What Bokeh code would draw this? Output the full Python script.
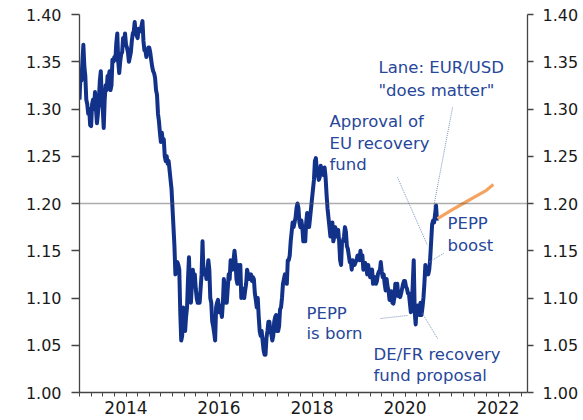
from bokeh.plotting import figure
from bokeh.models import (FixedTicker, LinearAxis, Range1d, Span,
                          ColumnDataSource, NumeralTickFormatter)
from bokeh.core.properties import value
from bokeh.embed import file_html
from bokeh.resources import INLINE

# ---------------- data (EUR/USD, ~weekly readings, 4 per month) ----------------
eur_2013 = [1.310, 1.335, 1.330, 1.350, 1.368, 1.345, 1.335, 1.310,
            1.305, 1.295, 1.300, 1.283, 1.282, 1.305, 1.310, 1.300,
            1.318, 1.300, 1.285, 1.295, 1.310, 1.330, 1.340, 1.310,
            1.300, 1.280, 1.310, 1.325, 1.320, 1.335, 1.333, 1.340,
            1.320, 1.325, 1.352, 1.350, 1.355, 1.352, 1.370, 1.380,
            1.350, 1.338, 1.350, 1.358, 1.360, 1.375, 1.370, 1.380]
eur_2014 = [1.368, 1.365, 1.360, 1.350, 1.355, 1.360, 1.372, 1.380,
            1.382, 1.392, 1.380, 1.378, 1.375, 1.385, 1.382, 1.383,
            1.388, 1.393, 1.372, 1.362, 1.362, 1.355, 1.360, 1.365,
            1.365, 1.360, 1.352, 1.345, 1.340, 1.338, 1.333, 1.320,
            1.315, 1.295, 1.287, 1.275, 1.265, 1.275, 1.265, 1.268,
            1.250, 1.245, 1.250, 1.242, 1.245, 1.235, 1.225, 1.215]
eur_2015 = [1.195, 1.175, 1.155, 1.125, 1.135, 1.138, 1.135, 1.130,
            1.085, 1.055, 1.060, 1.090, 1.075, 1.065, 1.080, 1.090,
            1.120, 1.143, 1.110, 1.095, 1.115, 1.130, 1.120, 1.125,
            1.110, 1.100, 1.095, 1.100, 1.095, 1.110, 1.125, 1.160,
            1.125, 1.128, 1.130, 1.120, 1.130, 1.140, 1.130, 1.100,
            1.095, 1.075, 1.070, 1.063, 1.055, 1.090, 1.095, 1.098]
eur_2016 = [1.085, 1.092, 1.088, 1.080, 1.095, 1.120, 1.110, 1.095,
            1.095, 1.110, 1.125, 1.120, 1.140, 1.135, 1.130, 1.140,
            1.150, 1.140, 1.120, 1.115, 1.135, 1.128, 1.135, 1.100,
            1.110, 1.105, 1.100, 1.108, 1.115, 1.130, 1.125, 1.120,
            1.120, 1.125, 1.118, 1.122, 1.120, 1.105, 1.098, 1.090,
            1.100, 1.080, 1.065, 1.060, 1.065, 1.055, 1.045, 1.040]
eur_2017 = [1.040, 1.058, 1.065, 1.075, 1.075, 1.065, 1.062, 1.055,
            1.060, 1.075, 1.080, 1.082, 1.065, 1.065, 1.070, 1.088,
            1.090, 1.100, 1.115, 1.120, 1.125, 1.120, 1.115, 1.140,
            1.140, 1.145, 1.160, 1.170, 1.180, 1.175, 1.180, 1.185,
            1.195, 1.200, 1.195, 1.180, 1.175, 1.182, 1.175, 1.160,
            1.165, 1.160, 1.180, 1.190, 1.185, 1.175, 1.185, 1.195]
eur_2018 = [1.205, 1.215, 1.225, 1.245, 1.248, 1.235, 1.230, 1.225,
            1.228, 1.240, 1.232, 1.235, 1.230, 1.238, 1.228, 1.210,
            1.195, 1.185, 1.175, 1.165, 1.170, 1.180, 1.160, 1.165,
            1.175, 1.170, 1.165, 1.172, 1.160, 1.140, 1.135, 1.160,
            1.160, 1.165, 1.175, 1.170, 1.155, 1.152, 1.145, 1.138,
            1.140, 1.130, 1.140, 1.135, 1.135, 1.138, 1.140, 1.145]
eur_2019 = [1.145, 1.140, 1.150, 1.140, 1.145, 1.130, 1.133, 1.137,
            1.132, 1.125, 1.135, 1.128, 1.122, 1.128, 1.130, 1.115,
            1.120, 1.122, 1.115, 1.118, 1.125, 1.128, 1.128, 1.138,
            1.128, 1.122, 1.125, 1.115, 1.108, 1.120, 1.112, 1.108,
            1.098, 1.105, 1.107, 1.095, 1.094, 1.100, 1.115, 1.110,
            1.115, 1.102, 1.103, 1.101, 1.105, 1.110, 1.115, 1.118]
eur_2020 = [1.118, 1.112, 1.110, 1.105, 1.105, 1.095, 1.085, 1.090,
            1.115, 1.140, 1.085, 1.072, 1.090, 1.092, 1.085, 1.082,
            1.095, 1.082, 1.090, 1.100, 1.115, 1.135, 1.125, 1.130,
            1.125, 1.130, 1.142, 1.160, 1.178, 1.182, 1.180, 1.188,
            1.198, 1.182]
eur_by_year = {2013: eur_2013, 2014: eur_2014, 2015: eur_2015, 2016: eur_2016,
               2017: eur_2017, 2018: eur_2018, 2019: eur_2019, 2020: eur_2020}

# forecast (orange)
fc_x = [2020.70, 2021.00, 2021.25, 2021.50, 2021.75, 2021.90]
fc_y = [1.184, 1.193, 1.200, 1.207, 1.214, 1.220]

y_ticks = [1.00, 1.05, 1.10, 1.15, 1.20, 1.25, 1.30, 1.35, 1.40]
year_labels = ["2014", "2016", "2018", "2020", "2022"]
year_label_pos = [2014, 2016, 2018, 2020, 2022]
ref_level = 1.20

annotations = [
    ("Lane: EUR/USD", 2019.43, 1.3439),
    ("\"does matter\"", 2019.43, 1.3196),
    ("Approval of", 2018.376, 1.2868),
    ("EU recovery", 2018.376, 1.2635),
    ("fund", 2018.376, 1.2413),
    ("PEPP", 2020.914, 1.1788),
    ("boost", 2020.914, 1.1556),
    ("PEPP", 2017.882, 1.0836),
    ("is born", 2017.882, 1.0624),
    ("DE/FR recovery", 2019.323, 1.0402),
    ("fund proposal", 2019.323, 1.0180),
]
leaders = [  # x0, y0, x1, y1
    (2021.022, 1.3016, 2020.613, 1.1958),
    (2019.839, 1.2275, 2020.484, 1.1556),
    (2020.828, 1.1471, 2020.505, 1.1376),
    (2019.473, 1.0783, 2020.054, 1.0815),
    (2020.699, 1.0571, 2020.376, 1.0836),
]

# ---------------- build series ----------------
xs, ys = [], []
for yr, vals in eur_by_year.items():
    for i, v in enumerate(vals):
        m, k = divmod(i, 4)
        xs.append(yr + (m + k / 4.0) / 12.0)
        ys.append(v)

FONT = "DejaVu Sans"
NAVY = "#12328A"
TXT = "#27479A"
AX = "#444444"

p = figure(width=583, height=420, x_range=Range1d(2013.0, 2022.634),
           y_range=Range1d(1.0, 1.4), output_backend="svg", toolbar_location=None,
           min_border_left=79, min_border_right=56, min_border_top=14,
           min_border_bottom=28, background_fill_color="white",
           border_fill_color="white")
p.outline_line_color = None
p.xgrid.visible = False
p.ygrid.visible = False

# x axis: labelled even years, quarterly minor ticks
quarters = [y + q / 4.0 for y in range(2013, 2023) for q in range(4)]
xa = p.xaxis[0]
xa.ticker = FixedTicker(ticks=year_label_pos, minor_ticks=quarters)
xa.major_label_overrides = {pos: lab for pos, lab in zip(year_label_pos, year_labels)}
xa.major_tick_out = 4
xa.major_tick_in = 0
xa.minor_tick_out = 4
xa.minor_tick_in = 0
xa.axis_line_color = AX
xa.axis_line_width = 1.3
xa.major_tick_line_color = AX
xa.minor_tick_line_color = AX
xa.major_label_text_font = FONT
xa.major_label_text_font_size = "17px"
xa.major_label_text_color = "#1a1a1a"
xa.major_label_standoff = 4

def style_y(ax, standoff, tick_out):
    ax.ticker = FixedTicker(ticks=y_ticks)
    ax.formatter = NumeralTickFormatter(format="0.00")
    ax.major_tick_out = tick_out
    ax.major_tick_in = 0
    ax.minor_tick_line_color = None
    ax.axis_line_color = AX
    ax.axis_line_width = 1.3
    ax.major_tick_line_color = AX
    ax.major_tick_line_width = 1.3
    ax.major_label_text_font = FONT
    ax.major_label_text_font_size = "16px"
    ax.major_label_text_color = "#1a1a1a"
    ax.major_label_standoff = standoff

style_y(p.yaxis[0], 10, 8)
ra = LinearAxis()
style_y(ra, 9, 6)
p.add_layout(ra, "right")

p.add_layout(Span(location=ref_level, dimension="width", line_color="#5a5a5a",
                  line_width=1.4, line_dash="1 1"))

p.line(xs, ys, line_color=NAVY, line_width=4, line_join="round")
p.line(fc_x, fc_y, line_color="#F4A460", line_width=3.2)

lsrc = ColumnDataSource(dict(x0=[l[0] for l in leaders], y0=[l[1] for l in leaders],
                             x1=[l[2] for l in leaders], y1=[l[3] for l in leaders]))
p.segment("x0", "y0", "x1", "y1", source=lsrc, line_color="#7E93BC",
          line_width=1, line_dash="1 1")

tsrc = ColumnDataSource(dict(t=[a[0] for a in annotations],
                             x=[a[1] for a in annotations],
                             y=[a[2] for a in annotations]))
p.text("x", "y", text="t", source=tsrc, text_font=value(FONT),
       text_font_size="16.5px", text_color=TXT, text_align="left",
       text_baseline="middle")

open("out.html", "w").write(file_html(p, INLINE))
